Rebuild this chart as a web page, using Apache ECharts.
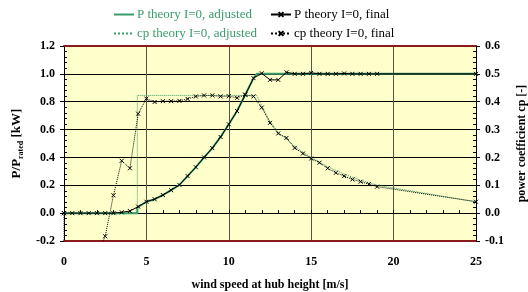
<!DOCTYPE html>
<html>
<head>
<meta charset="utf-8">
<script src="https://cdn.jsdelivr.net/npm/echarts@6/dist/echarts.min.js"></script>
<style>
html, body { margin: 0; padding: 0; background: #fff; }
#chart { width: 528px; height: 292px; }
</style>
</head>
<body>
<div id="chart"></div>
<script>
// wind speed grid of the "final" curves [m/s]
var windFinal = [0, 0.5, 1, 1.5, 2, 2.5, 3, 3.5, 4, 4.5, 5, 5.5, 6, 6.5, 7, 7.5, 8, 8.5, 9, 9.5,
    10, 10.5, 11, 11.5, 12, 12.5, 13, 13.5, 14, 14.5, 15, 15.5, 16, 16.5, 17, 17.5, 18, 18.5, 19, 25];
var pFinal = [0, 0, 0, 0, 0, 0, 0, 0.006, 0.015, 0.047, 0.082, 0.10, 0.13, 0.165, 0.203, 0.266, 0.33, 0.40, 0.467, 0.547,
    0.638, 0.733, 0.85, 0.969, 1.004, 0.957, 0.957, 1.011, 1.0, 1.0, 1.007, 1.0, 1.0, 1.0, 1.003, 1.0, 1.0, 1.0, 1.0, 1.0];
var cpFinal = [0, -5, -3, -1, -0.15, -0.083, 0.064, 0.188, 0.161, 0.357, 0.411, 0.399, 0.402, 0.402, 0.403, 0.41, 0.419, 0.4225, 0.4225, 0.419,
    0.42, 0.414, 0.425, 0.419, 0.379, 0.324, 0.286, 0.27, 0.234, 0.214, 0.196, 0.181, 0.161, 0.145, 0.133, 0.121, 0.113, 0.104, 0.095, 0.041];

// "adjusted" curves
var windPAdj = [0, 4.45, 4.45, 5, 5.5, 6, 6.5, 7, 7.5, 8, 8.5, 9, 9.5, 10, 10.5, 11, 11.5, 11.7, 25];
var pAdj = [0, 0, 0.04, 0.082, 0.10, 0.13, 0.165, 0.203, 0.266, 0.33, 0.40, 0.467, 0.547, 0.638, 0.733, 0.85, 0.969, 1.0, 1.0];
var windCpAdj = [0, 4.45, 4.45, 11.7, 12, 12.5, 13, 13.5, 14, 14.5, 15, 16, 17, 18, 19, 25];
var cpAdj = [0, 0, 0.4225, 0.4225, 0.385, 0.33, 0.29, 0.265, 0.24, 0.219, 0.2, 0.167, 0.14, 0.118, 0.1, 0.041];

var xTicks = [0, 5, 10, 15, 20, 25];
var names = ['P theory I=0, adjusted', 'P theory I=0, final', 'cp theory I=0, adjusted', 'cp theory I=0, final'];

var green = '#3a9c6b';
var font = '"Liberation Serif", "DejaVu Serif", serif';
var cross = 'path://M0,0L8,8M8,0L0,8';

function pairs(xs, ys) {
    return xs.map(function (x, i) { return [x, ys[i]]; });
}

var myChart = echarts.init(document.getElementById('chart'));

function legendAt(name, left, top, color, noMark) {
    var lg = {
        data: [name], left: left, top: top, orient: 'horizontal',
        itemWidth: 20, itemHeight: 6, itemGap: 4, padding: 0,
        textStyle: {fontFamily: font, fontSize: 13, color: color, padding: [0, 0, 0, -2]}
    };
    if (noMark) {
        lg.itemStyle = {opacity: 0};
    }
    return lg;
}

var axisLabelStyle = {fontFamily: font, fontSize: 12, fontWeight: 'bold', color: '#000'};

var option = {
    animation: false,
    backgroundColor: '#fff',
    legend: [
        legendAt(names[0], 113, 8, green, true),
        legendAt(names[1], 270, 8, '#000'),
        legendAt(names[2], 113, 27, green, true),
        legendAt(names[3], 270, 27, '#000')
    ],
    grid: {
        left: 64, right: 52, top: 46, bottom: 51,
        outerBoundsMode: 'none', containLabel: false,
        show: true, backgroundColor: '#ffffcc', borderWidth: 0
    },
    xAxis: [{
        type: 'value', min: 0, max: 25, interval: 5, position: 'bottom',
        axisLine: {onZero: false, lineStyle: {color: '#8b1a1a', width: 2}},
        axisTick: {show: false},
        axisLabel: Object.assign({margin: 15, formatter: function (v) {
            return xTicks.indexOf(v) >= 0 ? String(v) : '';
        }}, axisLabelStyle),
        splitLine: {show: true, lineStyle: {color: '#55554a', width: 1}},
        name: 'wind speed at hub height [m/s]', nameLocation: 'middle', nameGap: 38,
        nameTextStyle: {fontFamily: font, fontSize: 12, fontWeight: 'bold', color: '#000'}
    }, {
        type: 'value', min: 0, max: 25, interval: 1, position: 'bottom',
        axisLine: {show: true, onZero: true, onZeroAxisIndex: 0, lineStyle: {color: '#000', width: 1}},
        axisTick: {show: true, inside: true, length: 3, lineStyle: {color: '#000'}},
        axisLabel: {show: false},
        splitLine: {show: false}
    }, {
        type: 'value', min: 0, max: 25, position: 'top',
        axisLine: {show: true, onZero: false, lineStyle: {color: '#8b1a1a', width: 2}},
        axisTick: {show: false},
        axisLabel: {show: false},
        splitLine: {show: false}
    }],
    yAxis: [{
        type: 'value', min: -0.2, max: 1.2, interval: 0.2, position: 'left',
        axisLine: {show: true, onZero: false, lineStyle: {color: '#000'}},
        axisTick: {show: true, length: 4, lineStyle: {color: '#000'}},
        minorTick: {show: true, splitNumber: 5, length: -3, lineStyle: {color: '#000'}},
        axisLabel: Object.assign({margin: 9, formatter: function (v) { return v.toFixed(1); }}, axisLabelStyle),
        splitLine: {show: true, lineStyle: {color: '#000', width: 1}},
        name: '{a|P/P}{s|rated}{a| [kW]}', nameLocation: 'middle', nameGap: 38,
        nameTextStyle: {
            rich: {
                a: {fontFamily: font, fontSize: 13, fontWeight: 'bold', color: '#000', lineHeight: 16},
                s: {fontFamily: font, fontSize: 8, fontWeight: 'bold', color: '#000', verticalAlign: 'bottom', lineHeight: 10}
            }
        }
    }, {
        type: 'value', min: -0.1, max: 0.6, interval: 0.1, position: 'right',
        axisLine: {show: true, onZero: false, lineStyle: {color: '#000'}},
        axisTick: {show: true, length: 4, lineStyle: {color: '#000'}},
        minorTick: {show: true, splitNumber: 5, length: -3, lineStyle: {color: '#000'}},
        axisLabel: Object.assign({margin: 9, formatter: function (v) { return v.toFixed(1); }}, axisLabelStyle),
        splitLine: {show: false},
        name: 'power coefficient cp [-]', nameLocation: 'middle', nameGap: 40,
        nameTextStyle: {fontFamily: font, fontSize: 12, fontWeight: 'bold', color: '#000'}
    }],
    series: [{
        name: names[0], type: 'line', xAxisIndex: 0, yAxisIndex: 0,
        data: pairs(windPAdj, pAdj), symbol: 'none',
        lineStyle: {color: green, width: 2}, itemStyle: {color: green}
    }, {
        name: names[2], type: 'line', xAxisIndex: 0, yAxisIndex: 1,
        data: pairs(windCpAdj, cpAdj), symbol: 'none',
        lineStyle: {color: green, width: 1, type: 'dotted'}, itemStyle: {color: green}
    }, {
        name: names[1], type: 'line', xAxisIndex: 0, yAxisIndex: 0,
        data: pairs(windFinal, pFinal), symbol: cross, symbolSize: 4, showAllSymbol: true,
        lineStyle: {color: '#000', width: 1},
        itemStyle: {color: 'transparent', borderColor: '#000', borderWidth: 1}
    }, {
        name: names[3], type: 'line', xAxisIndex: 0, yAxisIndex: 1,
        data: pairs(windFinal, cpFinal), symbol: cross, symbolSize: 4, showAllSymbol: true,
        lineStyle: {color: '#000', width: 1, type: 'dotted'},
        itemStyle: {color: 'transparent', borderColor: '#000', borderWidth: 1}
    }]
};

myChart.setOption(option);
</script>
</body>
</html>
